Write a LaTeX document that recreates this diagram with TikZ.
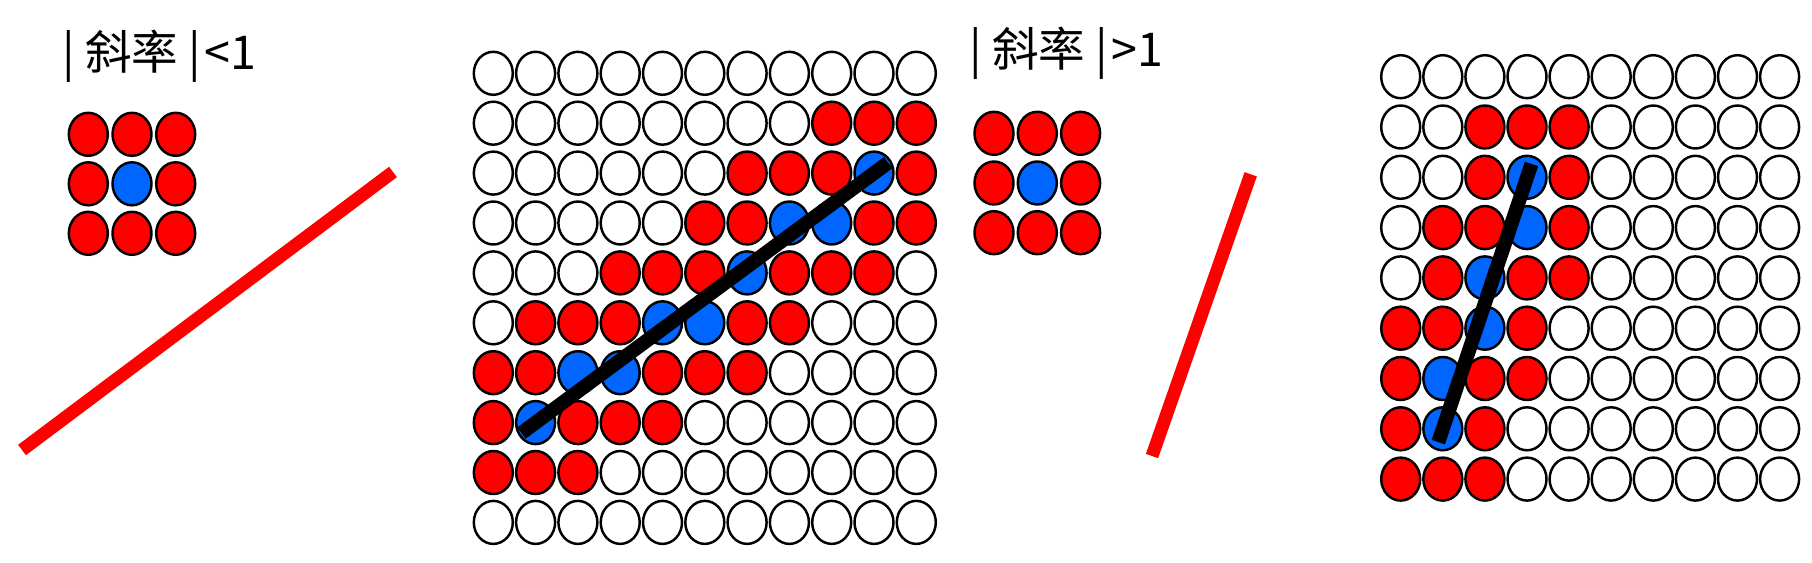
\documentclass[tikz,border=0pt]{standalone}
\usepackage{fontspec}
\newfontfamily\cjk{Noto Sans CJK SC}
\usetikzlibrary{shapes.geometric, calc}
\definecolor{R}{HTML}{FF0000}
\definecolor{B}{HTML}{0066FF}
\colorlet{W}{white}
\tikzset{
  pix/.style={ellipse, draw, line width=1.4pt, inner sep=0pt,
              minimum width=0.78cm, minimum height=0.86cm},
  pen/.style={line width=8pt, black},
  ray/.style={line width=7.4pt, R},
  tag/.style={font=\cjk\fontsize{26.5}{32}\selectfont, anchor=base west, inner sep=0pt},
}

\begin{document}
\begin{tikzpicture}[x=0.02cm, y=-0.02cm]
  \useasboundingbox (0,0) rectangle (1812,563);

  % ---------- case 1: |slope| < 1 ----------
  \node[tag] (lab1) at (62,70) {| 斜率 |\kern2pt<1};
  \foreach \row [count=\i] in {{R,R,R},{R,B,R},{R,R,R}}
    \foreach \v [count=\k] in \row
      \node[pix, fill=\v] (kL-\i-\k) at ({88.3+43.7*(\k-1)}, {134.3+49.5*(\i-1)}) {};

  \coordinate (s1) at (22,450);
  \coordinate (e1) at (393,172);
  \draw[ray] (s1) -- (e1);

  \foreach \row [count=\i] in {
      {W,W,W,W,W,W,W,W,W,W,W},
      {W,W,W,W,W,W,W,W,R,R,R},
      {W,W,W,W,W,W,R,R,R,B,R},
      {W,W,W,W,W,R,R,B,B,R,R},
      {W,W,W,R,R,R,B,R,R,R,W},
      {W,R,R,R,B,B,R,R,W,W,W},
      {R,R,B,B,R,R,R,W,W,W,W},
      {R,B,R,R,R,W,W,W,W,W,W},
      {R,R,R,W,W,W,W,W,W,W,W},
      {W,W,W,W,W,W,W,W,W,W,W}}
    \foreach \v [count=\k] in \row
      \node[pix, fill=\v] (L-\i-\k) at ({493.3+42.3*(\k-1)}, {73.3+49.9*(\i-1)}) {};

  \draw[pen, shorten <=-10pt, shorten >=-10pt] (L-8-2.center) -- (L-3-10.center);

  % ---------- case 2: |slope| > 1 ----------
  \node[tag] (lab2) at (969,66.7) {| 斜率 |\kern2pt>1};
  \foreach \row [count=\i] in {{R,R,R},{R,B,R},{R,R,R}}
    \foreach \v [count=\k] in \row
      \node[pix, fill=\v] (kR-\i-\k) at ({994+43.3*(\k-1)}, {133.3+49.7*(\i-1)}) {};

  \coordinate (s2) at (1152,456);
  \coordinate (e2) at (1250.7,174.3);
  \draw[ray] (s2) -- (e2);

  \foreach \row [count=\i] in {
      {W,W,W,W,W,W,W,W,W,W},
      {W,W,R,R,R,W,W,W,W,W},
      {W,W,R,B,R,W,W,W,W,W},
      {W,R,R,B,R,W,W,W,W,W},
      {W,R,B,R,R,W,W,W,W,W},
      {R,R,B,R,W,W,W,W,W,W},
      {R,B,R,R,W,W,W,W,W,W},
      {R,B,R,W,W,W,W,W,W,W},
      {R,R,R,W,W,W,W,W,W,W}}
    \foreach \v [count=\k] in \row
      \node[pix, fill=\v] (G-\i-\k) at ({1400.7+42.1*(\k-1)}, {76.7+50.3*(\i-1)}) {};

  \draw[pen, shorten <=-8pt, shorten >=-8pt] (G-8-2.center) -- (G-3-4.center);

\end{tikzpicture}
\end{document}
